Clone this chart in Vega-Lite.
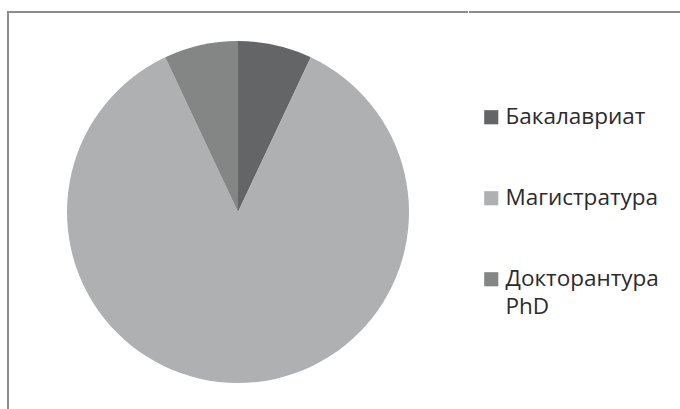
{
  "$schema": "https://vega.github.io/schema/vega-lite/v6.json",
  "background": "white",
  "padding": {"left": 7, "top": 11, "right": 0, "bottom": 0},
  "config": {"style": {"guide-label": {"lineHeight": 28}}},
  "data": {
    "values": [
      {"level": "Бакалавриат", "share": 7, "order": 1},
      {"level": "Магистратура", "share": 86, "order": 2},
      {"level": "Докторантура PhD", "share": 7, "order": 3}
    ]
  },
  "spacing": -2,
  "hconcat": [
    {
      "width": 460,
      "height": 400,
      "view": {"stroke": "#8c8c8c", "strokeWidth": 2, "strokeDash": [460, 860, 400]},
      "mark": {"type": "arc", "outerRadius": 171},
      "encoding": {
        "theta": {"field": "share", "type": "quantitative", "stack": true},
        "order": {"field": "order", "type": "quantitative"},
        "color": {
          "field": "level",
          "type": "nominal",
          "scale": {
            "domain": ["Бакалавриат", "Магистратура", "Докторантура PhD"],
            "range": ["#646567", "#aeb0b1", "#848585"]
          },
          "legend": null
        }
      }
    },
    {
      "width": 212,
      "height": 400,
      "view": {"stroke": "#8c8c8c", "strokeWidth": 2, "strokeDash": [212, 1400]},
      "mark": {"type": "arc", "outerRadius": 0},
      "encoding": {
        "theta": {"field": "share", "type": "quantitative", "stack": true},
        "order": {"field": "order", "type": "quantitative"},
        "color": {
          "field": "level",
          "type": "nominal",
          "scale": {
            "domain": ["Бакалавриат", "Магистратура", "Докторантура PhD"],
            "range": ["#646567", "#aeb0b1", "#848585"]
          },
          "legend": {
            "orient": "none",
            "legendX": 11,
            "legendY": 94,
            "title": null,
            "symbolType": "square",
            "symbolSize": 200,
            "symbolStrokeWidth": 0,
            "symbolOpacity": 1,
            "labelFont": "Open Sans",
            "labelFontSize": 22.5,
            "labelColor": "#2b2b2b",
            "labelOffset": 3,
            "labelLimit": 300,
            "rowPadding": 58,
            "labelExpr": "datum.label == 'Докторантура PhD' ? ['Докторантура', 'PhD'] : datum.label"
          }
        }
      }
    }
  ],
  "resolve": {"legend": {"color": "independent"}, "scale": {"color": "independent"}}
}
